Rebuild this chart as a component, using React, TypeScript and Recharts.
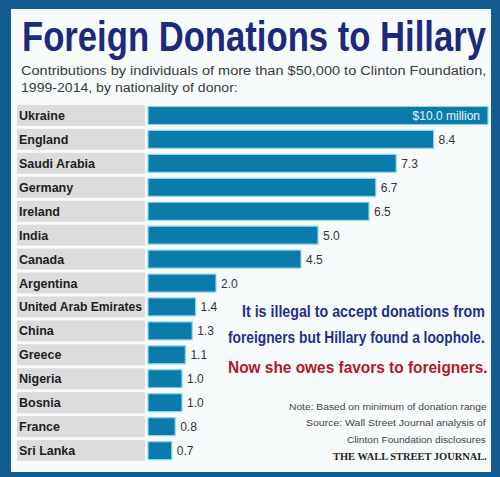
import React, { useLayoutEffect, useRef, useState } from 'react';
import { BarChart, Bar, XAxis, YAxis, LabelList } from 'recharts';

const countries = [
  'Ukraine', 'England', 'Saudi Arabia', 'Germany', 'Ireland', 'India', 'Canada', 'Argentina',
  'United Arab Emirates', 'China', 'Greece', 'Nigeria', 'Bosnia', 'France', 'Sri Lanka',
];
const amounts = [10.0, 8.4, 7.3, 6.7, 6.5, 5.0, 4.5, 2.0, 1.4, 1.3, 1.1, 1.0, 1.0, 0.8, 0.7];

const data = countries.map((name, i) => ({ name, value: amounts[i] }));

const BAR_COLOR = '#0b7bab';
const SANS = '"Liberation Sans", Arial, sans-serif';

// text squeezed horizontally to a given width (reference uses a narrow face)
const FitText = ({ x, y, width, anchor = 'start', children, ...rest }: any) => {
  const ref = useRef<SVGTextElement>(null);
  const [sx, setSx] = useState(1);
  useLayoutEffect(() => {
    if (ref.current) {
      const w = ref.current.getComputedTextLength();
      if (w > 0) setSx(width / w);
    }
  }, [width, children]);
  const left = anchor === 'end' ? x - width : x;
  return (
    <text ref={ref} transform={`translate(${left},${y}) scale(${sx},1)`} {...rest}>
      {children}
    </text>
  );
};

const CountryTick = ({ y, payload }: any) => (
  <g>
    <rect x={17} y={y - 10.5} width={128} height={21} fill="#dcdcdc" />
    <text x={19} y={y + 4.5} fontFamily={SANS} fontWeight="bold" fontSize={12.5} fill="#1e1e1e"
      textLength={payload.value.length > 15 ? 123 : undefined} lengthAdjust="spacingAndGlyphs">
      {payload.value}
    </text>
  </g>
);

const ValueLabel = ({ x, y, width, height, value, index }: any) => {
  if (index === 0) {
    return (
      <text x={x + width - 8} y={y + height / 2 + 4.5} textAnchor="end" fontFamily={SANS}
        fontSize={12} fill="#e6f6fb">
        ${value.toFixed(1)} million
      </text>
    );
  }
  return (
    <text x={x + width + 5} y={y + height / 2 + 4.5} fontFamily={SANS} fontSize={12} fill="#333">
      {value.toFixed(1)}
    </text>
  );
};

export default function App() {
  return (
    <div style={{ position: 'absolute', left: 0, top: 0, width: 500, height: 477, background: '#135c92' }}>
      <svg width={500} height={477} style={{ position: 'absolute', left: 0, top: 0 }}>
        <rect x={11} y={9} width={480} height={463} fill="#f8fbfc" />
      </svg>
      <div style={{ position: 'absolute', left: 0, top: 0 }}>
        <BarChart width={500} height={477} layout="vertical" data={data}
          margin={{ top: 103.5, right: 12, bottom: 14.5, left: 17 }} barCategoryGap={3}>
          <XAxis type="number" domain={[0, 10]} hide />
          <YAxis type="category" dataKey="name" width={131} axisLine={false} tickLine={false}
            interval={0} tick={<CountryTick />} />
          <Bar dataKey="value" fill={BAR_COLOR} stroke="#8fd8ee" strokeWidth={1.2} isAnimationActive={false}>
            <LabelList dataKey="value" content={<ValueLabel />} />
          </Bar>
        </BarChart>
      </div>
      <svg width={500} height={477} style={{ position: 'absolute', left: 0, top: 0, pointerEvents: 'none' }}>
        <FitText x={22} y={51} width={464} fontFamily={SANS} fontWeight="bold" fontSize={42} fill="#1c2a7c">
          Foreign Donations to Hillary
        </FitText>
        <FitText x={21} y={75} width={466} fontFamily={SANS} fontSize={13.5} fill="#3a3a3a">
          Contributions by individuals of more than $50,000 to Clinton Foundation,
        </FitText>
        <FitText x={21} y={92} width={217} fontFamily={SANS} fontSize={13.5} fill="#3a3a3a">
          1999-2014, by nationality of donor:
        </FitText>

        <FitText x={242} y={317} width={243} fontFamily={SANS} fontWeight="bold" fontSize={17} fill="#1f2e8c">
          It is illegal to accept donations from
        </FitText>
        <FitText x={228} y={343} width={257} fontFamily={SANS} fontWeight="bold" fontSize={17} fill="#1f2e8c">
          foreigners but Hillary found a loophole.
        </FitText>
        <FitText x={228} y={373} width={260} fontFamily={SANS} fontWeight="bold" fontSize={17} fill="#b3182c">
          Now she owes favors to foreigners.
        </FitText>

        <FitText x={487} y={410} width={198} anchor="end" fontFamily={SANS} fontSize={9.5} fill="#444">
          Note: Based on minimum of donation range
        </FitText>
        <FitText x={486} y={426} width={180} anchor="end" fontFamily={SANS} fontSize={9.5} fill="#444">
          Source: Wall Street Journal analysis of
        </FitText>
        <FitText x={486} y={443} width={139} anchor="end" fontFamily={SANS} fontSize={9.5} fill="#444">
          Clinton Foundation disclosures
        </FitText>
        <FitText x={487} y={460} width={154} anchor="end" fontFamily={'"Liberation Serif", serif'}
          fontWeight="bold" fontSize={10.5} fill="#222">
          THE WALL STREET JOURNAL.
        </FitText>
      </svg>
    </div>
  );
}
